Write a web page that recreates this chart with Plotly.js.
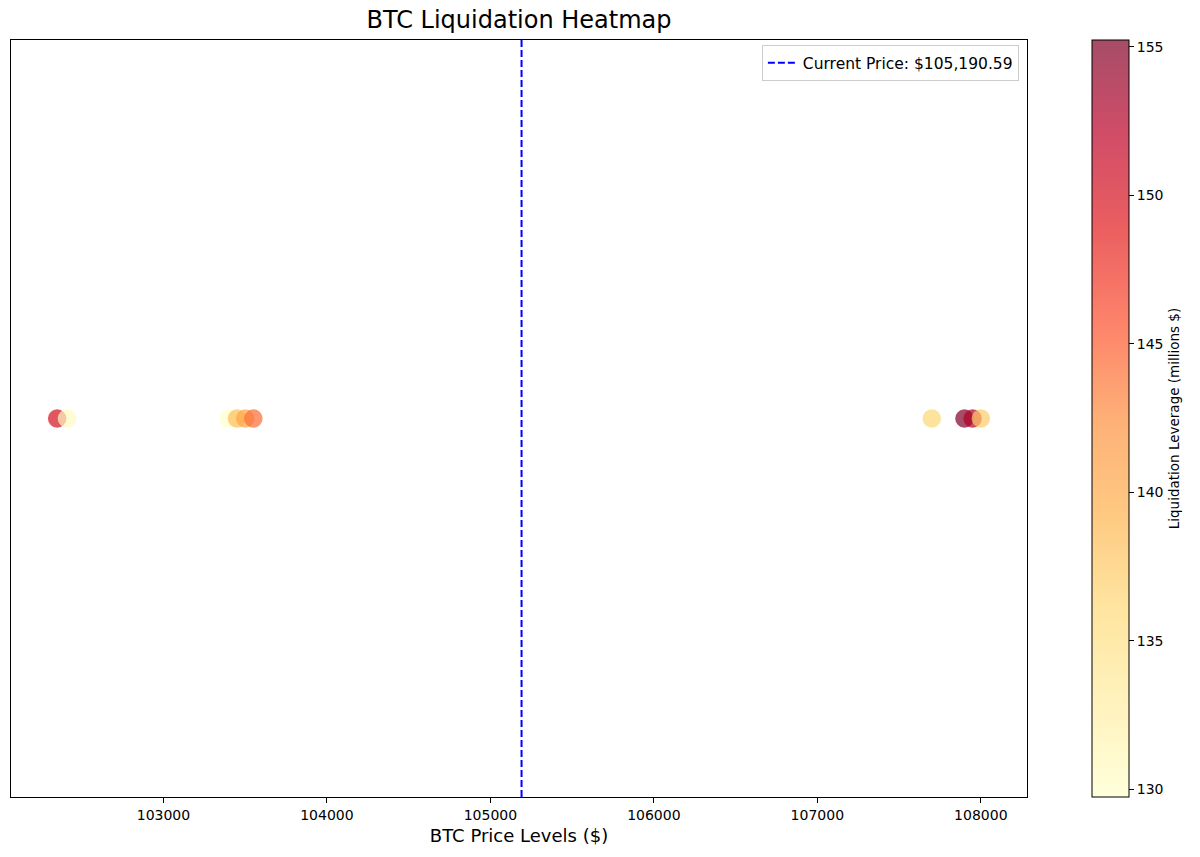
<!DOCTYPE html>
<html>
<head>
<meta charset="utf-8">
<script src="https://cdn.plot.ly/plotly-3.0.1.min.js"></script>
<style>
  html, body { margin: 0; padding: 0; background: #ffffff; }
  #chart { width: 1200px; height: 857px; }
</style>
</head>
<body>
<div id="chart"></div>
<script>
// Liquidation clusters: price level and leverage (millions $)
const priceLevels = [102350, 102410, 103400, 103450, 103500, 103550, 107700, 107900, 107950, 108000];
const leverageMillions = [150.2, 130.6, 129.74, 138.4, 140.3, 144.2, 136.3, 155.23, 152.6, 137.2];
const rowPosition = [0, 0, 0, 0, 0, 0, 0, 0, 0, 0];

const currentPrice = 105190.59;
const xTickValues = [103000, 104000, 105000, 106000, 107000, 108000];
const xTickLabels = ['103000', '104000', '105000', '106000', '107000', '108000'];
const colorbarTicks = [130, 135, 140, 145, 150, 155];

// YlOrRd stops, drawn semi-transparent
const ylOrRd = ['#ffffcc', '#ffeda0', '#fed976', '#feb24c', '#fd8d3c', '#fc4e2a', '#e31a1c', '#bd0026', '#800026'];
const alpha = 0.7;
function withAlpha(hex, a) {
  const r = parseInt(hex.slice(1, 3), 16);
  const g = parseInt(hex.slice(3, 5), 16);
  const b = parseInt(hex.slice(5, 7), 16);
  return 'rgba(' + r + ',' + g + ',' + b + ',' + a + ')';
}
const colorscale = ylOrRd.map((c, i) => [i / (ylOrRd.length - 1), withAlpha(c, alpha)]);

const font = 'DejaVu Sans, sans-serif';

// x range padded by 5% of the data span on each side
const xMin = Math.min(...priceLevels);
const xMax = Math.max(...priceLevels);
const pad = (xMax - xMin) * 0.05;

const plotLeft = 11, plotRight = 1027, figW = 1200;
const plotW = plotRight - plotLeft;

const clusters = {
  type: 'scatter',
  mode: 'markers',
  x: priceLevels,
  y: rowPosition,
  showlegend: false,
  hoverinfo: 'x+text',
  text: leverageMillions.map(v => v.toFixed(2) + 'M'),
  marker: {
    size: 18.5,
    color: leverageMillions,
    colorscale: colorscale,
    line: { width: 0 },
    colorbar: {
      x: (1092 - plotLeft) / plotW,
      xanchor: 'left',
      xpad: 0,
      y: 0.5,
      yanchor: 'middle',
      len: 1,
      lenmode: 'fraction',
      ypad: 0,
      thickness: 37,
      thicknessmode: 'pixels',
      outlinewidth: 1,
      outlinecolor: '#000000',
      ticks: 'outside',
      ticklen: 5,
      tickwidth: 1,
      tickcolor: '#000000',
      tickvals: colorbarTicks,
      tickfont: { family: font, size: 14, color: '#000000' },
      title: {
        text: 'Liquidation Leverage (millions $)',
        side: 'right',
        font: { family: font, size: 13.5, color: '#000000' }
      }
    }
  }
};

const priceLine = {
  type: 'scatter',
  mode: 'lines',
  x: [currentPrice, currentPrice],
  y: [-1, 1],
  name: 'Current Price: $' + currentPrice.toLocaleString('en-US', { minimumFractionDigits: 2, maximumFractionDigits: 2 }),
  line: { color: '#0000ff', width: 2, dash: '7px,3px' },
  hoverinfo: 'skip'
};

const layout = {
  width: figW,
  height: 857,
  paper_bgcolor: '#ffffff',
  plot_bgcolor: '#ffffff',
  margin: { l: plotLeft, r: figW - plotRight, t: 40, b: 60, pad: 0, autoexpand: false },
  font: { family: font, color: '#000000' },
  title: {
    text: 'BTC Liquidation Heatmap',
    x: 519 / figW,
    xanchor: 'center',
    y: 1 - 20 / 857,
    yanchor: 'middle',
    font: { family: font, size: 24, color: '#000000' }
  },
  xaxis: {
    range: [xMin - pad, xMax + pad],
    tickvals: xTickValues,
    ticktext: xTickLabels,
    ticks: 'outside',
    ticklen: 5,
    tickwidth: 1,
    tickcolor: '#000000',
    tickfont: { family: font, size: 14, color: '#000000' },
    showgrid: false,
    zeroline: false,
    showline: true,
    mirror: true,
    linecolor: '#000000',
    linewidth: 1,
    title: {
      text: 'BTC Price Levels ($)',
      standoff: 7,
      font: { family: font, size: 18, color: '#000000' }
    }
  },
  yaxis: {
    range: [-1, 1],
    showticklabels: false,
    ticks: '',
    showgrid: false,
    zeroline: false,
    showline: true,
    mirror: true,
    linecolor: '#000000',
    linewidth: 1
  },
  legend: {
    x: 0.992,
    xanchor: 'right',
    y: 0.993,
    yanchor: 'top',
    bgcolor: 'rgba(255,255,255,0.8)',
    bordercolor: '#cccccc',
    borderwidth: 1,
    font: { family: font, size: 15.5, color: '#000000' }
  },
  showlegend: true
};

Plotly.newPlot('chart', [clusters, priceLine], layout, { displayModeBar: false });
</script>
</body>
</html>
